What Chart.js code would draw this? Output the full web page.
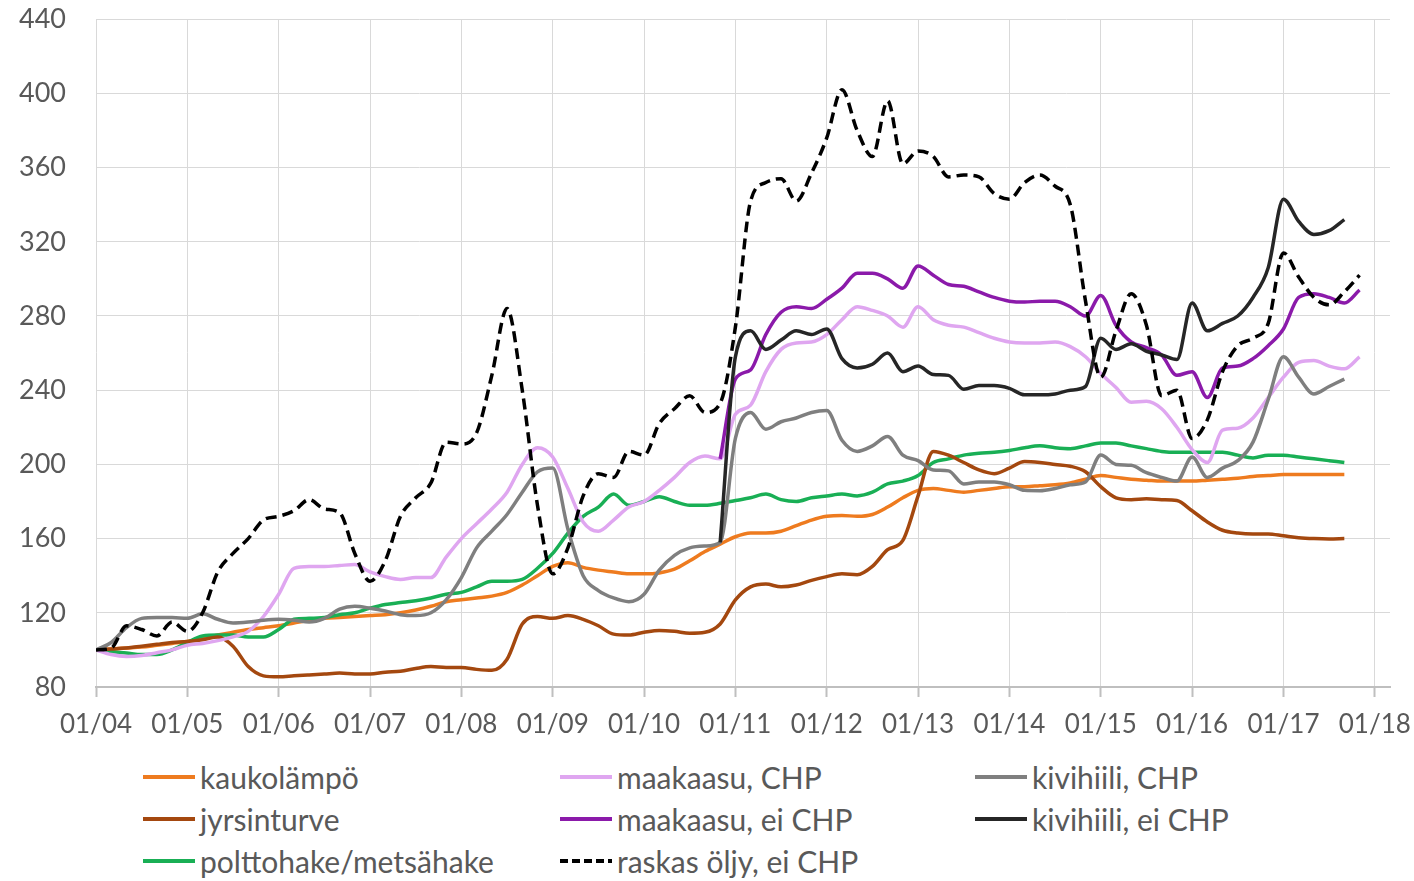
<!DOCTYPE html>
<html>
<head>
  <meta charset="utf-8">
  <title>Hintaindeksit</title>
  <script src="https://cdn.jsdelivr.net/npm/chart.js"></script>
  <style>
    body {
      margin: 0;
      background: #ffffff;
      font-family: Lato, "Open Sans", sans-serif;
    }
    #wrap {
      position: relative;
      width: 1414px;
      height: 881px;
      overflow: hidden;
    }
    #chartBox {
      position: absolute;
      left: 0;
      top: -27px;
      width: 1414px;
      height: 772px;
    }
    .leg {
      position: absolute;
      height: 40px;
      display: flex;
      align-items: center;
      font-size: 30px;
      color: #595959;
      white-space: nowrap;
    }
    .leg svg {
      margin-right: 5px;
    }
  </style>
</head>
<body>
  <div id="wrap">
    <div id="chartBox"><canvas id="priceChart"></canvas></div>
    <div id="legend"></div>
  </div>
  <script>
    // month index from 01/2004, every second month
    const months = [
      0, 2, 4, 6, 8, 10, 12, 14, 16, 18, 20, 22,
      24, 26, 28, 30, 32, 34, 36, 38, 40, 42, 44, 46,
      48, 50, 52, 54, 56, 58, 60, 62, 64, 66, 68, 70,
      72, 74, 76, 78, 80, 82, 84, 86, 88, 90, 92, 94,
      96, 98, 100, 102, 104, 106, 108, 110, 112, 114, 116, 118,
      120, 122, 124, 126, 128, 130, 132, 134, 136, 138, 140, 142,
      144, 146, 148, 150, 152, 154, 156, 158, 160, 162, 164, 166
    ];

    const tickMonths = [0, 12, 24, 36, 48, 60, 72, 84, 96, 108, 120, 132, 144, 156, 168];
    const tickLabels = ['01/04', '01/05', '01/06', '01/07', '01/08', '01/09', '01/10',
      '01/11', '01/12', '01/13', '01/14', '01/15', '01/16', '01/17', '01/18'];

    // one row per year (6 values, 2-month step)
    const kaukolampo = [
      100, 100.5, 101, 101.5, 102.5, 103.5,
      104.5, 106, 108, 109.5, 111, 112,
      113, 114.5, 116, 117, 117.5, 118,
      118.5, 119, 120, 121.5, 123.5, 126,
      127, 128, 129, 131, 135, 140,
      145, 147, 144.5, 143, 142, 141,
      141, 141.5, 143.5, 148, 153, 157,
      161, 163, 163, 164, 167, 170,
      172, 172.5, 172, 173, 177, 182,
      186, 187, 186, 185, 186, 187,
      188, 188, 188.5, 189, 190, 192,
      194, 193, 192, 191.5, 191, 191,
      191, 191.5, 192, 192.5, 193.5, 194,
      194.5, 194.5, 194.5, 194.5, 194.5, null
    ];

    const jyrsinturve = [
      100, 100.5, 101, 102, 103, 104,
      104.5, 105.5, 107, 102, 91, 86,
      85.5, 86, 86.5, 87, 87.5, 87,
      87, 88, 88.5, 90, 91, 90.5,
      90.5, 89.5, 89, 95, 114, 118,
      117, 118.5, 116.5, 113, 108.5, 108,
      109.5, 110.5, 110, 109, 109.5, 114,
      127, 134, 135.5, 134, 135, 137.5,
      139.5, 141, 140.5, 145, 154, 159,
      183, 207, 205, 201, 197, 195,
      198, 201.5, 201, 200, 199, 196,
      188, 182, 181, 181.5, 181, 180.5,
      175, 169, 164.5, 163, 162.5, 162.5,
      161.5, 160.5, 160, 159.8, 160, null
    ];

    const polttohake = [
      100, 99, 98.3, 97.5, 97.5, 100,
      104, 107.5, 108, 108, 107, 107,
      111, 116.5, 117, 117.5, 119, 120,
      122.5, 124.5, 125.5, 126.5, 128, 130,
      131, 134, 137, 137, 138, 144,
      152, 163, 172, 177, 184, 178,
      180, 182.5, 180, 178, 178, 179,
      180.5, 182, 184, 181, 180, 182,
      183, 184, 183, 185, 189.5, 191,
      194, 201, 203, 205, 206, 206.5,
      207.5, 209, 210, 209, 208.5, 210,
      211.5, 211.5, 210, 208.5, 207, 206.5,
      206.5, 206.5, 206.5, 205, 203.5, 205,
      205, 204, 203, 202, 201, null
    ];

    const maakaasuChp = [
      100, 97.5, 96.5, 97, 98.5, 100,
      102.5, 103.5, 105, 107, 110, 118,
      130, 144, 145, 145, 145.5, 146,
      142, 139.5, 138, 139, 139, 150,
      160, 168, 176, 185, 200, 209,
      204, 187, 169, 164, 170, 177,
      180, 186, 193, 201, 204.5, 203,
      227, 232, 250, 262, 265.5, 266,
      270, 278, 285, 283, 280, 274,
      285, 278, 275, 274, 271, 268,
      266, 265.5, 265.5, 266, 263.5, 258,
      249, 241.5, 233.5, 234, 230, 220,
      208, 201, 218.5, 219.5, 225, 236,
      247, 255, 256, 253, 251.5, 258
    ];

    const maakaasuEiChp = [
      null, null, null, null, null, null,
      null, null, null, null, null, null,
      null, null, null, null, null, null,
      null, null, null, null, null, null,
      null, null, null, null, null, null,
      null, null, null, null, null, null,
      null, null, null, null, null, 203,
      246, 251, 270, 282, 285, 284,
      289, 295, 303, 303, 300, 295,
      307, 302, 297, 296, 293, 290,
      288, 287.5, 288, 288, 285, 280,
      291, 275, 266, 263, 259, 248,
      250, 236, 252, 253, 257, 264,
      273, 290, 292, 290, 287, 294
    ];

    const kivihiiliChp = [
      100, 104, 112, 117, 117.5, 117.5,
      117, 119.5, 116.5, 114.5, 115, 116,
      116.5, 116, 115, 117, 122, 123.5,
      122.5, 121, 119, 118.5, 120, 127,
      139, 155, 164, 173, 185, 196,
      198, 165, 140, 132, 128, 126,
      130, 143, 151, 155, 156, 158,
      214, 228, 219, 223, 225, 228,
      229, 213, 207, 210, 215, 205,
      202, 197, 196.5, 189.5, 190.5, 190.5,
      189, 186, 185.8, 187, 189, 190.5,
      205, 200, 199.5, 195.5, 193, 191,
      204, 193, 198, 202, 212, 235,
      258, 247, 238, 242, 246, null
    ];

    const kivihiiliEiChp = [
      null, null, null, null, null, null,
      null, null, null, null, null, null,
      null, null, null, null, null, null,
      null, null, null, null, null, null,
      null, null, null, null, null, null,
      null, null, null, null, null, null,
      null, null, null, null, null, 158,
      258, 272, 262, 267, 272, 270,
      273, 257, 252, 254, 260, 250,
      253, 248.5, 248, 240.5, 242.5, 242.5,
      241, 237.5, 237.5, 238, 240, 242,
      268, 262, 265, 261, 259, 256.5,
      287, 272, 276, 280, 290, 306,
      343, 331, 324, 326, 332, null
    ];

    const raskasOljy = [
      100, 101, 113, 111, 107.5, 115,
      110, 120, 142, 152, 160, 170,
      172, 175, 181, 176, 174, 152,
      137, 148, 172, 182, 190, 212,
      211, 217, 248, 284, 240, 178,
      141, 155, 183, 195, 193, 207,
      205, 222, 230, 237, 228, 233,
      274, 342, 352, 354, 342, 357,
      376, 402, 380, 366, 396, 362,
      369, 366, 355, 356, 355, 346,
      343, 352, 356, 350, 340, 288,
      247, 272, 292, 275, 237, 240,
      214, 224, 250, 264, 268, 276,
      314, 301, 290, 286, 293, 302
    ];

    function pts(values) {
      return months.map((m, i) => ({ x: m, y: values[i] }));
    }

    const series = [
      { label: 'kaukolämpö', values: kaukolampo, color: '#EE7B1F', order: 7 },
      { label: 'jyrsinturve', values: jyrsinturve, color: '#A4480F', order: 5 },
      { label: 'polttohake/metsähake', values: polttohake, color: '#19AF55', order: 6 },
      { label: 'maakaasu, CHP', values: maakaasuChp, color: '#DFA6F0', order: 4 },
      { label: 'maakaasu, ei CHP', values: maakaasuEiChp, color: '#8B1AAA', order: 3 },
      { label: 'raskas öljy, ei CHP', values: raskasOljy, color: '#000000', order: 0, dash: [11, 6] },
      { label: 'kivihiili, CHP', values: kivihiiliChp, color: '#7F7F7F', order: 2 },
      { label: 'kivihiili, ei CHP', values: kivihiiliEiChp, color: '#262626', order: 1 }
    ];

    const ctx = document.getElementById('priceChart').getContext('2d');
    new Chart(ctx, {
      type: 'line',
      data: {
        datasets: series.map(s => ({
          label: s.label,
          data: pts(s.values),
          borderColor: s.color,
          backgroundColor: s.color,
          borderWidth: 3.5,
          borderDash: s.dash || [],
          pointRadius: 0,
          cubicInterpolationMode: 'monotone',
          order: s.order,
          fill: false
        }))
      },
      options: {
        responsive: true,
        maintainAspectRatio: false,
        animation: false,
        layout: { padding: { top: 18, right: 24, left: 0, bottom: 0 } },
        plugins: {
          legend: { display: false },
          tooltip: { enabled: false }
        },
        scales: {
          x: {
            type: 'linear',
            min: 0,
            max: 170,
            afterBuildTicks: function(scale) {
              scale.ticks = tickMonths.map(v => ({ value: v }));
            },
            afterFit: function(scale) {
              scale.height = 58;
              scale.paddingLeft = 0;
              scale.paddingRight = 0;
            },
            ticks: {
              autoSkip: false,
              maxRotation: 0,
              padding: 12,
              color: '#595959',
              font: { family: 'Lato', size: 26 },
              callback: function(value) {
                return tickLabels[tickMonths.indexOf(value)];
              }
            },
            grid: {
              color: '#d9d9d9',
              lineWidth: 1,
              tickLength: 10,
              tickColor: '#bfbfbf',
              tickWidth: 2
            },
            border: { color: '#bfbfbf', width: 2 }
          },
          y: {
            min: 80,
            max: 440,
            afterFit: function(scale) {
              scale.width = 96;
            },
            ticks: {
              stepSize: 40,
              padding: 30,
              color: '#595959',
              font: { family: 'Lato', size: 27 }
            },
            grid: {
              color: '#d9d9d9',
              lineWidth: 1,
              drawTicks: false
            },
            border: { display: false }
          }
        }
      }
    });

    // legend in three columns, like the original
    const legendPos = [
      { i: 0, left: 143, top: 757 },
      { i: 1, left: 143, top: 799 },
      { i: 2, left: 143, top: 841 },
      { i: 3, left: 560, top: 757 },
      { i: 4, left: 560, top: 799 },
      { i: 5, left: 560, top: 841 },
      { i: 6, left: 975, top: 757 },
      { i: 7, left: 975, top: 799 }
    ];
    const legend = document.getElementById('legend');
    legendPos.forEach(p => {
      const s = series[p.i];
      const item = document.createElement('div');
      item.className = 'leg';
      item.style.left = p.left + 'px';
      item.style.top = p.top + 'px';
      const dash = s.dash ? ' stroke-dasharray="8 4"' : '';
      item.innerHTML = '<svg width="52" height="10"><line x1="0" y1="5" x2="52" y2="5" stroke="' +
        s.color + '" stroke-width="4"' + dash + '/></svg><span>' + s.label + '</span>';
      legend.appendChild(item);
    });
  </script>
</body>
</html>
